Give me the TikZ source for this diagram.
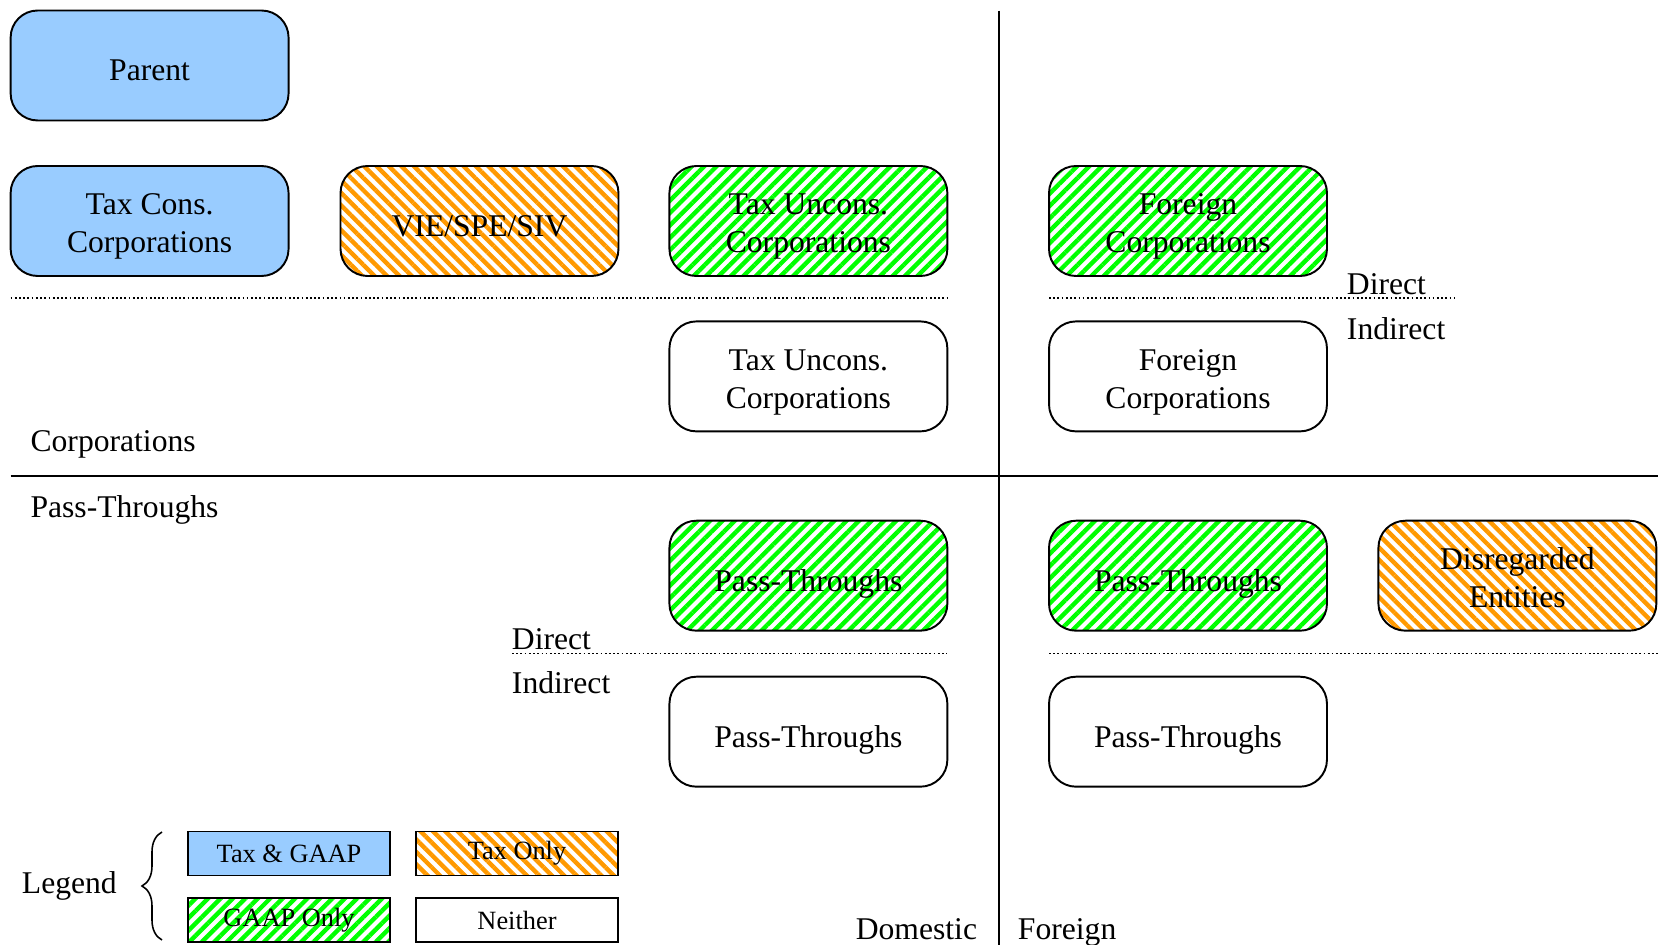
\documentclass[tikz,border=0pt]{standalone}
\usepackage{fontspec}
\setmainfont{Liberation Serif}
\usetikzlibrary{patterns.meta, decorations.pathreplacing}

\definecolor{taxgaapblue}{RGB}{153,204,255}
\definecolor{taxorange}{RGB}{255,153,0}
\definecolor{gaapgreen}{RGB}{0,255,0}

\begin{document}
\begin{tikzpicture}[x=0.02cm, y=-0.02cm, line width=1.1pt,
    entity/.style={draw, rounded corners=0.54cm, minimum width=5.56cm, minimum height=2.2cm,
        align=center, font=\fontsize{18}{21.6}\selectfont,
        execute at begin node={\rule{0pt}{1.23em}}, execute at end node={\rule[-0.25em]{0pt}{0pt}}},
    twoline/.style={execute at begin node={\rule{0pt}{2.25em}}},
    legendbox/.style={draw, minimum width=4.04cm, minimum height=0.88cm, font=\fontsize{15}{18}\selectfont},
    taxgaap/.style={fill=taxgaapblue},
    taxonly/.style={pattern={Lines[angle=-45, distance=5pt, line width=2.5pt]}, pattern color=taxorange},
    gaaponly/.style={pattern={Lines[angle=45, distance=5pt, line width=2.5pt]}, pattern color=gaapgreen},
    split/.style={line width=1pt, dash pattern=on 1pt off 1.4pt},
    lbl/.style={anchor=base west, inner sep=0pt, font=\fontsize{18}{21.6}\selectfont}]
    \useasboundingbox (0,0) rectangle (1658,945);

    % Domestic / Foreign and Corporations / Pass-Throughs
    \draw (999,10.6) -- (999,945);
    \draw (10.6,476) -- (1658,476);
    \draw[split] (10.6,298) -- (947.4,298);
    \draw[split] (1049,298) -- (1454,298);
    \draw[split] (512,653.5) -- (947.4,653.5);
    \draw[split] (1049,653.5) -- (1658,653.5);

    % Corporations
    \node[entity, taxgaap] (parent) at (149.6,65.5) {Parent};
    \node[entity, twoline, taxgaap] (taxcons) at (149.6,221) {Tax Cons.\\Corporations};
    \node[entity, taxonly] (vie) at (479.5,221) {VIE/SPE/SIV};
    \node[entity, twoline, gaaponly] (uncons) at (808.4,221) {Tax Uncons.\\Corporations};
    \node[entity, twoline, gaaponly] (forcorp) at (1188,221) {Foreign\\Corporations};
    \node[entity, twoline] (uncons ind) at (808.4,376.4) {Tax Uncons.\\Corporations};
    \node[entity, twoline] (forcorp ind) at (1188,376.4) {Foreign\\Corporations};

    % Pass-Throughs
    \node[entity, gaaponly] (pt) at (808.4,575.7) {Pass-Throughs};
    \node[entity, gaaponly] (forpt) at (1188,575.7) {Pass-Throughs};
    \node[entity, twoline, taxonly] (disreg) at (1517.4,575.7) {Disregarded\\Entities};
    \node[entity] (pt ind) at (808.4,731.7) {Pass-Throughs};
    \node[entity] (forpt ind) at (1188,731.7) {Pass-Throughs};

    % Labels
    \node[lbl] (direct corp) at (1346,294.3) {Direct};
    \node[lbl] (indirect corp) at (1346,339.3) {Indirect};
    \node[lbl] (corp) at (29.6,451.5) {Corporations};
    \node[lbl] (passthru) at (29.6,518) {Pass-Throughs};
    \node[lbl] (direct pt) at (511,649.3) {Direct};
    \node[lbl] (indirect pt) at (511,693.3) {Indirect};
    \node[lbl, anchor=base east] (domestic) at (978,939) {Domestic};
    \node[lbl] (foreign) at (1017,939) {Foreign};

    % Legend
    \node[lbl] (legend) at (21,893.5) {Legend};
    \draw[line width=0.9pt, decorate, decoration={brace, amplitude=0.4cm}] (162,940) -- (162,832);
    \node[legendbox, taxgaap] (key taxgaap) at (289,853.5) {Tax \& GAAP};
    \node[legendbox, taxonly] (key taxonly) at (517,853.5) {Tax Only};
    \node[legendbox, gaaponly] (key gaaponly) at (289,920) {GAAP Only};
    \node[legendbox] (key neither) at (517,920) {Neither};
\end{tikzpicture}
\end{document}
